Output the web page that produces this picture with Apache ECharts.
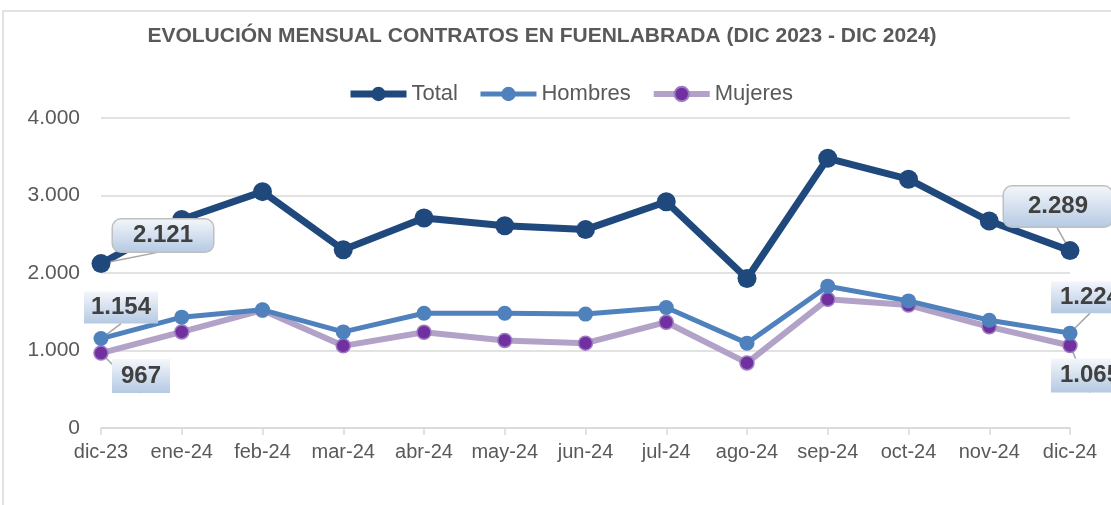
<!DOCTYPE html>
<html>
<head>
<meta charset="utf-8">
<title>Contratos Fuenlabrada</title>
<script src="https://cdn.jsdelivr.net/npm/echarts@6/dist/echarts.min.js"></script>
<style>
	html, body { margin: 0; padding: 0; background: #fff; }
	#mychart { width: 1111px; height: 505px; }
</style>
</head>
<body>
<div id="mychart"></div>
<script>
var months = ['dic-23', 'ene-24', 'feb-24', 'mar-24', 'abr-24', 'may-24', 'jun-24',
	'jul-24', 'ago-24', 'sep-24', 'oct-24', 'nov-24', 'dic-24'];
var totalValues = [2121, 2690, 3050, 2300, 2710, 2610, 2560, 2920, 1930, 3480, 3210, 2670, 2289];
var hombresValues = [1154, 1430, 1525, 1240, 1480, 1480, 1470, 1555, 1095, 1830, 1640, 1390, 1224];
var mujeresValues = [967, 1240, 1520, 1060, 1235, 1130, 1095, 1365, 840, 1660, 1587, 1305, 1065];
var yTicks = [0, 1000, 2000, 3000, 4000];

var chart = {
	initial : function initial() {
		this.drawChart();
	},

	// 1234 -> "1.234"
	fmt : function fmt(v) {
		return String(v).replace(/\B(?=(\d{3})+(?!\d))/g, '.');
	},

	boxStyle : function boxStyle(border, pad) {
		return {
			show : true,
			color : '#404040',
			fontFamily : 'Liberation Sans',
			fontWeight : 'bold',
			fontSize : 24,
			padding : pad,
			borderRadius : border ? 8 : 0,
			borderColor : border ? '#bfbfbf' : 'transparent',
			borderWidth : border ? 1.5 : 0,
			backgroundColor : new echarts.graphic.LinearGradient(0, 0, 0, 1, [
				{ offset : 0, color : '#f4f7fb' },
				{ offset : 1, color : '#b4c9e3' }
			]),
			formatter : function(p) {
				return chart.fmt(p.value);
			}
		};
	},

	// put a callout label on the first and last point only
	withEdgeLabels : function withEdgeLabels(values, first, last) {
		var out = [];
		for (var i = 0; i < values.length; i++) {
			var item = { value : values[i] };
			if (i == 0 && first) {
				item.label = first;
			}
			if (i == values.length - 1 && last) {
				item.label = last;
			}
			out.push(item);
		}
		return out;
	},

	drawChart : function drawChart() {
		var axisFont = { color : '#595959', fontFamily : 'Liberation Sans', fontSize : 20 };

		var l1 = chart.boxStyle(true, [5, 20, 3, 20]); l1.position = 'inside'; l1.offset = [62, -28];
		var l2 = chart.boxStyle(true, [8, 24, 8, 24]); l2.position = 'inside'; l2.offset = [-12, -44];
		var l3 = chart.boxStyle(false, [5, 7, 3, 7]); l3.position = 'inside'; l3.offset = [20, -31];
		var l4 = chart.boxStyle(false, [5, 9, 3, 9]); l4.position = 'inside'; l4.offset = [20, -36];
		var l5 = chart.boxStyle(false, [6, 9, 4, 9]); l5.position = 'inside'; l5.offset = [40, 23];
		var l6 = chart.boxStyle(false, [6, 9, 4, 9]); l6.position = 'inside'; l6.offset = [20, 30];

		var leader = { show : true, lineStyle : { color : '#a6a6a6', width : 1.5 } };

		var option = {
			animation : false,
			title : {
				text : 'EVOLUCIÓN MENSUAL CONTRATOS EN FUENLABRADA (DIC 2023 - DIC 2024)',
				left : 537,
				top : 21,
				textAlign : 'center',
				textStyle : {
					color : '#595959',
					fontFamily : 'Liberation Sans',
					fontWeight : 'bold',
					fontSize : 21
				}
			},
			legend : {
				top : 78,
				left : 342,
				itemWidth : 56,
				itemHeight : 18,
				itemGap : 20,
				textStyle : { color : '#595959', fontFamily : 'Liberation Sans', fontSize : 22 },
				data : [
					{ name : 'Total', lineStyle : { width : 7 } },
					{ name : 'Hombres', lineStyle : { width : 5 } },
					{ name : 'Mujeres', lineStyle : { width : 6 } }
				]
			},
			grid : {
				left : 101,
				right : 41,
				top : 118,
				bottom : 77
			},
			xAxis : {
				type : 'category',
				boundaryGap : false,
				data : months,
				axisLine : { lineStyle : { color : '#d9d9d9', width : 1.5 } },
				axisTick : { show : true, length : 7, lineStyle : { color : '#d9d9d9', width : 1.5 } },
				axisLabel : Object.assign({ margin : 14, interval : 0 }, axisFont)
			},
			yAxis : {
				type : 'value',
				min : yTicks[0],
				max : yTicks[yTicks.length - 1],
				interval : 1000,
				axisLine : { show : false },
				axisTick : { show : false },
				splitLine : { lineStyle : { color : '#d9d9d9', width : 1.5 } },
				axisLabel : Object.assign({
					margin : 21,
					formatter : function(v) { return chart.fmt(v); }
				}, axisFont, { fontSize : 21 })
			},
			series : [
				{
					name : 'Mujeres',
					type : 'line',
					z : 2,
					data : chart.withEdgeLabels(mujeresValues, l5, l6),
					symbol : 'circle',
					symbolSize : 14,
					lineStyle : { color : '#b3a2c7', width : 6 },
					itemStyle : { color : '#7030a0', borderColor : '#9e7cc1', borderWidth : 1.5 },
					labelLine : leader
				},
				{
					name : 'Hombres',
					type : 'line',
					z : 3,
					data : chart.withEdgeLabels(hombresValues, l3, l4),
					symbol : 'circle',
					symbolSize : 15,
					lineStyle : { color : '#4f81bd', width : 5 },
					itemStyle : { color : '#4f81bd' },
					labelLine : leader
				},
				{
					name : 'Total',
					type : 'line',
					z : 4,
					data : chart.withEdgeLabels(totalValues, l1, l2),
					symbol : 'circle',
					symbolSize : 19,
					lineStyle : { color : '#1f497d', width : 7 },
					itemStyle : { color : '#1f497d' },
					labelLine : leader
				}
			],
			graphic : [
				{
					type : 'rect',
					silent : true,
					z : -10,
					shape : { x : 3, y : 11, width : 1200, height : 600 },
					style : { fill : 'none', stroke : '#d9d9d9', lineWidth : 1.5 }
				}
			]
		};

		var myChart = echarts.init(document.getElementById('mychart'));
		myChart.setOption(option);
	}
};

chart.initial();
</script>
</body>
</html>
